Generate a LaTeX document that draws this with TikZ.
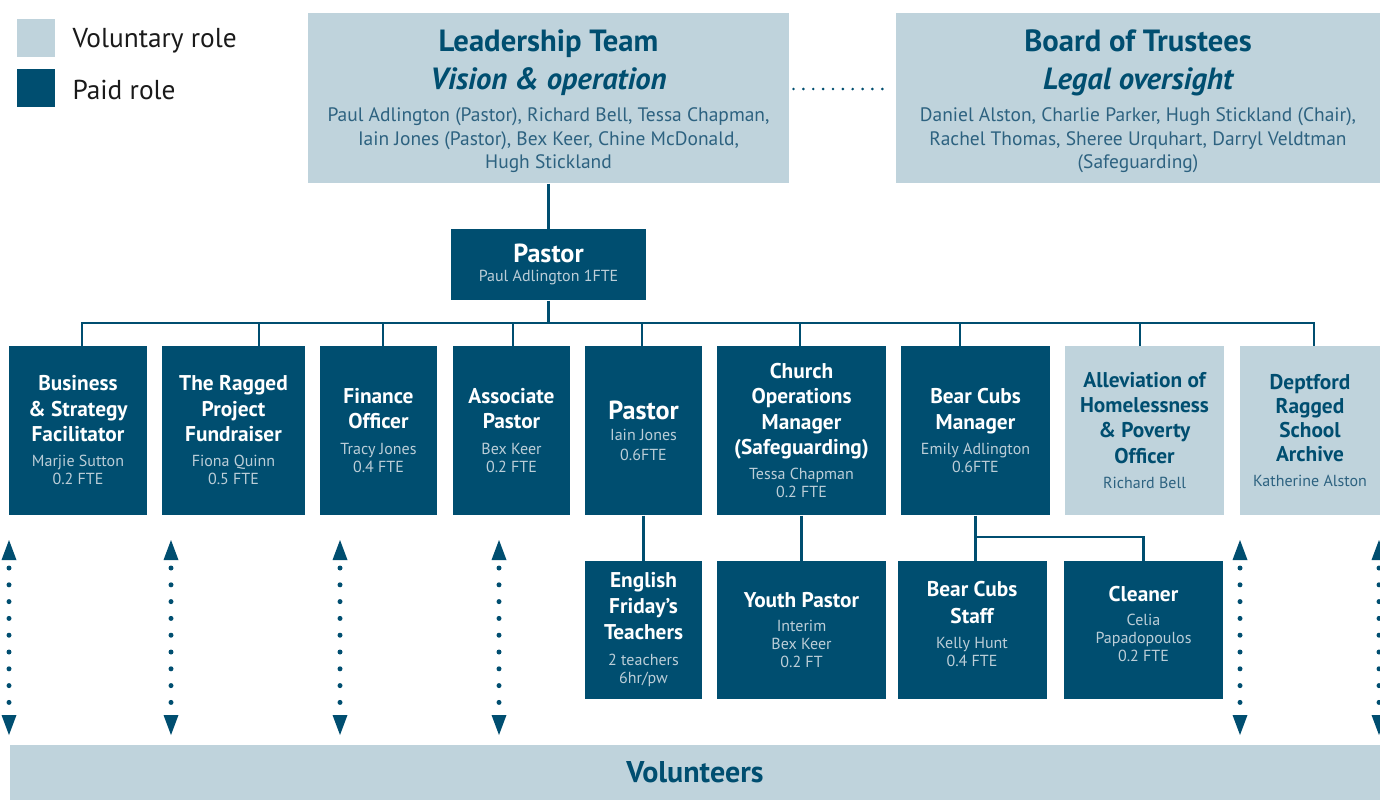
\documentclass[tikz,border=0pt]{standalone}
\usepackage{fontspec}
\setmainfont{PT Sans}
\usetikzlibrary{arrows.meta}

\definecolor{paidblue}{RGB}{0,78,112}
\definecolor{volblue}{RGB}{191,211,220}
\definecolor{namelight}{RGB}{188,206,216}
\definecolor{namemid}{RGB}{45,98,128}
\definecolor{legendtext}{RGB}{26,26,26}

\newcommand{\ttl}[2][16]{{\fontsize{#1}{#1}\selectfont\bfseries #2}}
\newcommand{\nm}[2][12]{{\fontsize{#1}{#1}\selectfont\color{namelight}#2}}
\newcommand{\nmv}[2][12]{{\fontsize{#1}{#1}\selectfont\color{namemid}#2}}
\newcommand{\tightlines}{\lineskiplimit=-40pt\relax}

\tikzset{every picture/.style={line width=0.75pt}}
\tikzset{
  paid/.style={fill=paidblue, text=white, inner sep=0pt, align=center, font=\fontsize{12}{13.5}\selectfont\tightlines},
  vol/.style={fill=volblue, text=paidblue, inner sep=0pt, align=center, font=\fontsize{12}{13.5}\selectfont\tightlines},
  rowone/.style={minimum height=126.75pt},
  rowtwo/.style={minimum height=103.5pt},
  legendsq/.style={minimum width=28.5pt, minimum height=28.5pt, inner sep=0pt},
  legendlabel/.style={anchor=west, inner sep=0pt, text=legendtext, font=\fontsize{20.5}{20.5}\selectfont},
  link/.style={draw=paidblue, line width=2pt},
  linkdots/.style={draw=paidblue, line width=2.2pt, line cap=round, dash pattern=on 0pt off 7.4pt},
  volarrow/.style={draw=paidblue, line width=3.75pt, line cap=round, dash pattern=on 0pt off 12.6pt, dash phase=6.6pt,
    arrows={Triangle[width=11.25pt,length=15pt,line width=0pt]-Triangle[width=11.25pt,length=15pt,line width=0pt]}},
}

\begin{document}
\begin{tikzpicture}[x=0.75pt,y=0.75pt,yscale=-1,xscale=1]
	\useasboundingbox (0,0) rectangle (1380,800);
	
	%Legend
	\node[legendsq, fill=volblue] (legvol) at (36,38) {};
	\node[legendlabel] (legvoltext) at (72,41) {Voluntary role};
	\node[legendsq, fill=paidblue] (legpaid) at (36,88) {};
	\node[legendlabel] (legpaidtext) at (72,90) {Paid role};
	
	%Top boxes
	\node[vol, minimum width=360.75pt, minimum height=127.5pt, font=\fontsize{14.6}{17.6}\selectfont\tightlines] (lead) at (548.5,98)
	{{}\\[3.3pt] \ttl[23]{Leadership Team}\\[10.9pt] \ttl[23]{\itshape Vision \& operation}\\[6.8pt]
	 \nmv[14.6]{Paul Adlington (Pastor), Richard Bell, Tessa Chapman,}\\ \nmv[14.6]{Iain Jones (Pastor), Bex Keer, Chine McDonald,}\\ \nmv[14.6]{Hugh Stickland}};
	\node[vol, minimum width=363pt, minimum height=127.5pt, font=\fontsize{14.6}{17.6}\selectfont\tightlines] (board) at (1138,98)
	{{}\\[3.3pt] \ttl[23]{Board of Trustees}\\[10.9pt] \ttl[23]{\itshape Legal oversight}\\[6.8pt]
	 \nmv[14.6]{Daniel Alston, Charlie Parker, Hugh Stickland (Chair),}\\ \nmv[14.6]{Rachel Thomas, Sheree Urquhart, Darryl Veldtman}\\ \nmv[14.6]{(Safeguarding)}};
	
	%Pastor
	\node[paid, minimum width=146.25pt, minimum height=53.25pt] (pastor) at (548.5,264.5)
	{\ttl[19.6]{Pastor}\\[1.2pt] \nm{Paul Adlington 1FTE}};
	
	%First row
	\node[paid, rowone, minimum width=103.5pt] (biz) at (78,430.5)
	{\ttl{Business}\\[5.5pt] \ttl{\& Strategy}\\[5.5pt] \ttl{Facilitator}\\[5.5pt] \nm{Marjie Sutton}\\ \nm{0.2 FTE}};
	\node[paid, rowone, minimum width=107.25pt] (ragged) at (233.5,430.5)
	{\ttl{The Ragged}\\[5.5pt] \ttl{Project}\\[5.5pt] \ttl{Fundraiser}\\[5.5pt] \nm{Fiona Quinn}\\ \nm{0.5 FTE}};
	\node[paid, rowone, minimum width=87.75pt] (fin) at (378.5,430.5)
	{\ttl{Finance}\\[5.5pt] \ttl{Officer}\\[5.5pt] \nm{Tracy Jones}\\ \nm{0.4 FTE}};
	\node[paid, rowone, minimum width=87.75pt] (assoc) at (511.5,430.5)
	{\ttl{Associate}\\[5.5pt] \ttl{Pastor}\\[5.5pt] \nm{Bex Keer}\\ \nm{0.2 FTE}};
	\node[paid, rowone, minimum width=87.75pt] (iain) at (643.5,430.5)
	{\ttl[19.6]{Pastor}\\[2pt] \nm{Iain Jones}\\[1.5pt] \nm{0.6FTE}};
	\node[paid, rowone, minimum width=126.75pt] (ops) at (801.5,430.5)
	{\ttl{Church}\\[5.5pt] \ttl{Operations}\\[5.5pt] \ttl{Manager}\\[5.5pt] \ttl{(Safeguarding)}\\[5.5pt] \nm{Tessa Chapman}\\ \nm{0.2 FTE}};
	\node[paid, rowone, minimum width=111.75pt] (cubs) at (975.5,430.5)
	{\ttl{Bear Cubs}\\[5.5pt] \ttl{Manager}\\[5.5pt] \nm{Emily Adlington}\\ \nm{0.6FTE}};
	\node[vol, rowone, minimum width=119.25pt] (homeless) at (1144.5,430.5)
	{\ttl{Alleviation of}\\[5.5pt] \ttl{Homelessness}\\[5.5pt] \ttl{\& Poverty}\\[5.5pt] \ttl{Officer}\\[5.5pt] \nmv{Richard Bell}};
	\node[vol, rowone, minimum width=105pt] (archive) at (1310,430.5)
	{\ttl{Deptford}\\[4.5pt] \ttl{Ragged}\\[4.5pt] \ttl{School}\\[4.5pt] \ttl{Archive}\\[5.5pt] \nmv{Katherine Alston}};
	
	%Second row
	\node[paid, rowtwo, minimum width=87.75pt] (english) at (643.5,630)
	{\ttl{English}\\[6pt] \ttl{Friday’s}\\[6pt] \ttl{Teachers}\\[6pt] \nm{2 teachers}\\ \nm{6hr/pw}};
	\node[paid, rowtwo, minimum width=126.75pt] (youth) at (801.5,630)
	{\ttl{Youth Pastor}\\[5pt] \nm{Interim}\\ \nm{Bex Keer}\\ \nm{0.2 FT}};
	\node[paid, rowtwo, minimum width=111.75pt] (staff) at (972,630)
	{\ttl{Bear Cubs}\\[6.5pt] \ttl{Staff}\\[5pt] \nm{Kelly Hunt}\\ \nm{0.4 FTE}\\[-4.5pt] {}};
	\node[paid, rowtwo, minimum width=119.25pt] (cleaner) at (1143.5,630)
	{\ttl{Cleaner}\\[5pt] \nm{Celia}\\ \nm{Papadopoulos}\\ \nm{0.2 FTE}\\[-4.5pt] {}};
	
	%Volunteers
	\node[vol, minimum width=1027.5pt, minimum height=41.25pt] (vols) at (695,772.5) {\ttl[22.5]{Volunteers}};
	
	%Straight Lines
	\draw[linkdots, shorten <=3pt, shorten >=4.5pt] ([yshift=-6.75pt]lead.east) -- ([yshift=-6.75pt]board.west);
	\draw[link] (lead.south) -- (pastor.north);
	\coordinate (bus) at (548.5,323);
	\draw[link] (pastor.south) -- (bus);
	\draw[link] (bus) -| ([xshift=3pt]biz.north);
	\draw[link] (bus) -| ([xshift=19.1pt]ragged.north);
	\draw[link] (bus) -| ([xshift=3.4pt]fin.north);
	\draw[link] (bus) -| ([xshift=1.1pt]assoc.north);
	\draw[link] (bus) -| ([xshift=-1.1pt]iain.north);
	\draw[link] (bus) -| ([xshift=-1.1pt]ops.north);
	\draw[link] (bus) -| ([xshift=-11.6pt]cubs.north);
	\draw[link] (bus) -| ([xshift=-3.4pt]homeless.north);
	\draw[link] (bus) -| ([xshift=3pt]archive.north);
	\draw[link] (iain.south) -- (english.north);
	\draw[link] (ops.south) -- (youth.north);
	\draw[link] (cubs.south) -- (cubs.south |- staff.north);
	\coordinate (cubsfork) at (975.5,537);
	\draw[link] (cubsfork) -| (cleaner.north);
	
	%Dotted arrows to volunteers
	\coordinate (vtop1) at (9,540);
	\coordinate (vbot1) at (9,735);
	\draw[volarrow] (vtop1) -- (vbot1);
	\coordinate (vtop2) at (171,540);
	\coordinate (vbot2) at (171,735);
	\draw[volarrow] (vtop2) -- (vbot2);
	\coordinate (vtop3) at (340,540);
	\coordinate (vbot3) at (340,735);
	\draw[volarrow] (vtop3) -- (vbot3);
	\coordinate (vtop4) at (499,540);
	\coordinate (vbot4) at (499,735);
	\draw[volarrow] (vtop4) -- (vbot4);
	\coordinate (vtop5) at (1240,540);
	\coordinate (vbot5) at (1240,735);
	\draw[volarrow] (vtop5) -- (vbot5);
	\coordinate (vtop6) at (1379,540);
	\coordinate (vbot6) at (1379,735);
	\draw[volarrow] (vtop6) -- (vbot6);
	
\end{tikzpicture}
\end{document}
